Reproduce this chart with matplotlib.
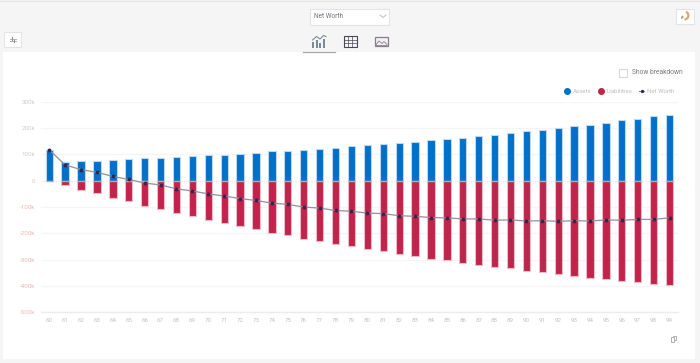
import matplotlib
matplotlib.use("Agg")
import matplotlib.pyplot as plt
from matplotlib.lines import Line2D
from matplotlib.patches import Rectangle, Polygon, Wedge
import numpy as np

W, H = 700, 363

ages = list(range(60, 100))
assets = [117, 71, 73, 76, 78, 82, 85, 87, 90, 94, 96, 99, 102, 106, 111, 114, 116, 122, 126, 130,
          134, 138, 143, 148, 153, 159, 163, 169, 174, 181, 187, 193, 200, 206, 213, 220, 229, 236, 244, 251]
liabilities = [0, -15, -34, -47, -64, -77, -95, -106, -122, -134, -149, -159, -173, -183, -198, -206, -220, -229, -240, -248,
               -260, -267, -278, -286, -297, -302, -312, -319, -328, -333, -343, -348, -356, -361, -369, -373, -382, -386, -394, -397]
net_worth = [117, 60, 42, 32, 16, 5, -9, -16, -31, -39, -50, -58, -68, -75, -85, -90, -100, -104, -113, -116,
             -123, -125, -133, -135, -140, -141, -145, -145, -150, -149, -153, -152, -154, -152, -153, -149, -150, -147, -147, -141]
y_ticks = [300, 200, 100, 0, -100, -200, -300, -400, -500]
y_labels = ["300k", "200k", "100k", "0", "-100k", "-200k", "-300k", "-400k", "-500k"]

plt.rcParams["font.family"] = ["Roboto", "DejaVu Sans"]

fig = plt.figure(figsize=(W / 100, H / 100), dpi=100, facecolor="#f5f5f5")


# everything around the chart is placed in reference pixels
ui = fig.add_axes([0, 0, 1, 1], zorder=0)
ui.set_xlim(0, W)
ui.set_ylim(H, 0)
ui.axis("off")


def box(x, y, w, h, edge="#e3e3e3", face="white", lw=0.8):
    ui.add_patch(Rectangle((x, y), w, h, facecolor=face, edgecolor=edge, linewidth=lw))


ui.plot([0, W], [1, 1], color="#e6e6e6", lw=1)
box(3, 52, 692, 307, edge="none")
box(310, 8.5, 79, 16)
ui.text(314, 16.5, "Net Worth", fontsize=4.7, color="#77727c", va="center")
ui.plot([380, 383, 386], [15, 17.5, 15], color="#b5b5b5", lw=0.6)
box(4, 32, 16.5, 15)
ui.plot([9.5, 15.5], [38.5, 38.5], color="#a5a5a5", lw=0.6)
ui.plot([9.5, 15.5], [40.5, 40.5], color="#a5a5a5", lw=0.6)
ui.plot([11.5, 11.5], [37, 39.5], color="#909090", lw=0.8)
ui.plot([13.5, 13.5], [39.5, 42], color="#909090", lw=0.8)
box(676, 8.5, 18, 15.5)
ui.add_patch(Wedge((684.5, 15.5), 5, -70, 90, width=2.2, facecolor="#e0a468", edgecolor="none"))
ui.add_patch(Wedge((683.5, 18), 2.5, 160, 260, width=2.5, facecolor="#a59a8c", edgecolor="none"))

# view switcher icons
for bx, bh in zip([312, 315.5, 319, 322.5], [6, 8, 5.5, 9]):
    ui.add_patch(Rectangle((bx, 48 - bh), 2.4, bh, facecolor="#7c8a97", edgecolor="none"))
ui.plot([312.5, 316.5, 320, 323.5, 326], [40, 36.5, 39, 35.5, 36.5], color="#7c8a97", lw=0.8)
ui.plot([303, 335], [51.5, 51.5], color="#a8a8a8", lw=0.9)
box(344, 36, 12.5, 11, edge="#4a4658", face="none", lw=0.8)
for gx in [348.2, 352.3]:
    ui.plot([gx, gx], [36, 47], color="#4a4658", lw=0.5)
for gy in [39.7, 43.4]:
    ui.plot([344, 356.5], [gy, gy], color="#4a4658", lw=0.5)
box(375, 37, 12.5, 9, edge="#85808c", face="#f3eff2", lw=0.9)
ui.add_patch(Polygon([[375.5, 45.5], [379, 41], [382, 43.5], [384, 41.5], [387, 44.5], [387, 45.5]],
                     facecolor="none", edgecolor="#85808c", linewidth=0.6))

box(618.5, 68.5, 8, 8, edge="#d8d8d8")
ui.text(632, 72.7, "Show breakdown", fontsize=4.75, color="#77777f", va="center")

# copy icon
box(672.5, 335.5, 3.8, 4.5, edge="#a5a5a5", face="white", lw=0.6)
box(670.5, 337, 3.8, 4.5, edge="#a5a5a5", face="white", lw=0.6)

# chart area in reference pixels
left, right, top, bottom = 41.3, 677.5, 101.7, 312.4
ax = fig.add_axes([left / W, 1 - bottom / H, (right - left) / W, (bottom - top) / H], zorder=1)
ax.patch.set_alpha(0)
x = np.arange(len(ages))

ax.bar(x, assets, width=0.46, color="#0070c9", edgecolor="#bcd8f0", linewidth=0.8, zorder=2)
ax.bar(x, liabilities, width=0.46, color="#c0244a", edgecolor="#eeb9c6", linewidth=0.8, zorder=2)
# grey seam where each pair of bars meets the zero line
ax.hlines(np.zeros(len(x)), x - 0.23, x + 0.23, color="#b4adb0", lw=0.9, zorder=2.5)
ax.plot(x, net_worth, color="#958f98", lw=0.9, zorder=3,
        marker="o", markersize=2.8, markerfacecolor="#3a2350", markeredgecolor="#3a2350", markeredgewidth=0)

ax.set_xlim(-0.5, len(ages) - 0.5)
ax.set_ylim(-500, 300)
ax.set_xticks(x)
ax.set_xticklabels(ages)
ax.set_yticks(y_ticks)
ax.set_yticklabels(y_labels)
ax.tick_params(axis="both", length=0, labelsize=4.5)
ax.tick_params(axis="x", pad=3.8, labelcolor="#c4c4c4")
ax.tick_params(axis="y", pad=4.3)
for tick, val in zip(ax.get_yticklabels(), y_ticks):
    tick.set_color("#eab9b5" if val < 0 else "#d2cdc8")
ax.grid(axis="y", color="#f5f5f5", lw=0.9, zorder=0)
ax.set_axisbelow(True)
for name in ["top", "right", "left"]:
    ax.spines[name].set_visible(False)
ax.spines["bottom"].set_color("#ececec")
ax.spines["bottom"].set_linewidth(1)

handles = [
    Line2D([], [], linestyle="none", marker="o", markersize=4, color="#0070c9", label="Assets"),
    Line2D([], [], linestyle="none", marker="o", markersize=4, color="#c0244a", label="Liabilities"),
    Line2D([], [], color="#8d8790", lw=0.8, marker="o", markersize=2.4, markerfacecolor="#3a2350",
           markeredgewidth=0, label="Net Worth"),
]
leg = fig.legend(handles=handles, loc="center right", bbox_to_anchor=(674.5 / W, 1 - 91.5 / H), ncol=3,
                 frameon=False, fontsize=4.4, labelcolor="#bdbdbd", handlelength=0.8, handletextpad=0.5,
                 columnspacing=1.15, borderpad=0, borderaxespad=0)

fig.savefig("out.png", dpi=100, facecolor=fig.get_facecolor())
